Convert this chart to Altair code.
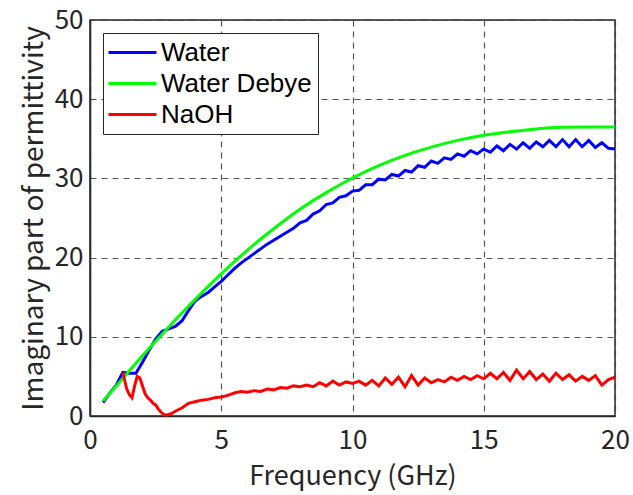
import altair as alt
import pandas as pd

# ---- data ----
water_freq = [0.5, 0.75, 1.0, 1.25, 1.5, 1.75, 2.0, 2.25, 2.5, 2.75, 3.0, 3.25, 3.5, 3.75,
              4.0, 4.25, 4.5, 4.75, 5.0, 5.25, 5.5, 5.75, 6.0, 6.25, 6.5, 6.75, 7.0, 7.25,
              7.5, 7.75, 8.0, 8.25, 8.5, 8.75, 9.0, 9.25, 9.5, 9.75, 10.0, 10.25, 10.5, 10.75,
              11.0, 11.25, 11.5, 11.75, 12.0, 12.25, 12.5, 12.75, 13.0, 13.25, 13.5, 13.75,
              14.0, 14.25, 14.5, 14.75, 15.0, 15.25, 15.5, 15.75, 16.0, 16.25, 16.5, 16.75,
              17.0, 17.25, 17.5, 17.75, 18.0, 18.25, 18.5, 18.75, 19.0, 19.25, 19.5, 19.75, 20.0]
water_eps = [1.7, 2.9, 3.9, 5.5, 5.4, 5.4, 6.8, 8.3, 9.7, 10.7, 11.0, 11.3, 12.0, 13.3,
             14.5, 15.1, 15.6, 16.3, 17.0, 17.8, 18.6, 19.3, 19.9, 20.5, 21.1, 21.7, 22.2, 22.7,
             23.2, 23.7, 24.4, 24.7, 25.5, 25.9, 26.7, 26.9, 27.6, 27.8, 28.4, 28.5, 29.2, 29.2,
             29.9, 29.8, 30.5, 30.3, 31.0, 30.8, 31.6, 31.4, 32.2, 31.9, 32.6, 32.4, 33.1,
             32.8, 33.5, 33.1, 33.7, 33.3, 34.1, 33.5, 34.3, 33.7, 34.5, 33.8, 34.6, 34.0,
             34.8, 34.0, 34.9, 34.0, 34.9, 34.0, 34.8, 33.9, 34.5, 33.8, 33.7]

debye_freq = [0.5, 1.0, 1.5, 2.0, 2.5, 3.0, 3.5, 4.0, 5.0, 6.0, 7.0, 8.0, 9.0, 10.0,
              11.0, 12.0, 13.0, 14.0, 15.0, 16.0, 17.0, 18.0, 19.0, 20.0]
debye_eps = [1.9, 3.8, 5.7, 7.6, 9.45, 11.25, 13.0, 14.7, 17.95, 20.95, 23.65, 26.1, 28.2, 30.05,
             31.6, 32.9, 33.95, 34.8, 35.45, 35.9, 36.25, 36.45, 36.5, 36.5]

naoh_freq = [1.25, 1.3, 1.4, 1.5, 1.6, 1.7, 1.8, 1.9, 2.0, 2.1, 2.2, 2.3, 2.4, 2.5, 2.6, 2.7,
             2.8, 2.9, 3.0, 3.1, 3.25, 3.5, 3.75, 4.0, 4.25, 4.5, 4.75, 5.0, 5.25, 5.5, 5.75,
             6.0, 6.25, 6.5, 6.75, 7.0, 7.25, 7.5, 7.75, 8.0, 8.25, 8.5, 8.75, 9.0, 9.25, 9.5,
             9.75, 10.0, 10.25, 10.5, 10.75, 11.0, 11.25, 11.5, 11.75, 12.0, 12.25, 12.5, 12.75,
             13.0, 13.25, 13.5, 13.75, 14.0, 14.25, 14.5, 14.75, 15.0, 15.25, 15.5, 15.75, 16.0,
             16.25, 16.5, 16.75, 17.0, 17.25, 17.5, 17.75, 18.0, 18.25, 18.5, 18.75, 19.0, 19.25,
             19.5, 19.75, 20.0]
naoh_eps = [5.5, 4.8, 3.4, 2.7, 2.3, 3.8, 5.0, 4.8, 3.8, 2.8, 2.3, 2.0, 1.6, 1.4, 0.9, 0.5,
            0.2, 0.1, 0.2, 0.3, 0.6, 1.0, 1.6, 1.8, 2.0, 2.1, 2.3, 2.4, 2.6, 2.9, 3.1,
            3.0, 3.2, 3.1, 3.4, 3.3, 3.6, 3.5, 3.8, 3.7, 3.9, 3.7, 4.2, 3.8, 4.4, 3.9,
            4.3, 4.1, 4.4, 3.9, 4.5, 3.8, 4.8, 4.0, 4.9, 3.7, 5.1, 3.9, 4.8,
            4.2, 4.6, 4.3, 4.9, 4.5, 5.0, 4.6, 5.1, 4.7, 5.4, 4.7, 5.5, 4.5,
            5.8, 4.7, 5.6, 4.6, 5.3, 4.4, 5.4, 4.6, 5.2, 4.4, 5.0, 4.5, 5.1,
            3.9, 4.6, 4.9]

series_names = ["Water", "Water Debye", "NaOH"]
series_colors = ["#0000FF", "#00FF00", "#FF0000"]
x_ticks = [0, 5, 10, 15, 20]
y_ticks = [0, 10, 20, 30, 40, 50]

df = pd.concat([
    pd.DataFrame({"f": water_freq, "eps": water_eps, "series": "Water"}),
    pd.DataFrame({"f": debye_freq, "eps": debye_eps, "series": "Water Debye"}),
    pd.DataFrame({"f": naoh_freq, "eps": naoh_eps, "series": "NaOH"}),
], ignore_index=True)

FONT = "Noto Sans CJK JP"
LEGEND_FONT = "Liberation Sans"

x = alt.X("f:Q", title="Frequency (GHz)",
          scale=alt.Scale(domain=[0, 20], nice=False),
          axis=alt.Axis(values=x_ticks, labelPadding=11, titlePadding=10, labelFlush=False,
                        labelFontSize=26, titleFontSize=27))
y = alt.Y("eps:Q", title="Imaginary part of permittivity",
          scale=alt.Scale(domain=[0, 50], nice=False),
          axis=alt.Axis(values=y_ticks, labelPadding=7, titlePadding=6, labelFlush=False,
                        labelFontSize=26, titleFontSize=28))
color = alt.Color("series:N",
                  scale=alt.Scale(domain=series_names, range=series_colors),
                  legend=alt.Legend(title=None, orient="none", legendX=13, legendY=13))

base = alt.Chart(df)
layers = []
for name in series_names:
    interp = "monotone" if name == "Water Debye" else "linear"
    layers.append(
        base.transform_filter(alt.datum.series == name)
        .mark_line(strokeWidth=3, interpolate=interp)
        .encode(x=x, y=y, color=color)
    )

chart = alt.layer(*layers).properties(
    width=525, height=396,
    autosize=alt.AutoSizeParams(type="none"),
    padding={"left": 90, "top": 20, "right": 18, "bottom": 79},
    background="white",
).configure_view(
    stroke="#262626", strokeWidth=1.5
).configure_axis(
    labelFont=FONT, titleFont=FONT,
    labelColor="#262626", titleColor="#262626", titleFontWeight="normal",
    domainColor="#262626", domainWidth=1.5, ticks=False,
    grid=True, gridColor="#444444", gridDash=[6, 5], gridWidth=1.2, gridOpacity=0.9,
).configure_legend(
    labelFont=LEGEND_FONT, labelFontSize=26, labelColor="#000000",
    symbolType="M-2,0L2,0", symbolSize=576, symbolStrokeWidth=3, symbolOffset=10,
    labelOffset=15,
    strokeColor="#262626", fillColor="white", padding=6, rowPadding=4,
    labelLimit=300, cornerRadius=0,
)

chart.save("out.html", embed_options={"renderer": "svg", "actions": False})
